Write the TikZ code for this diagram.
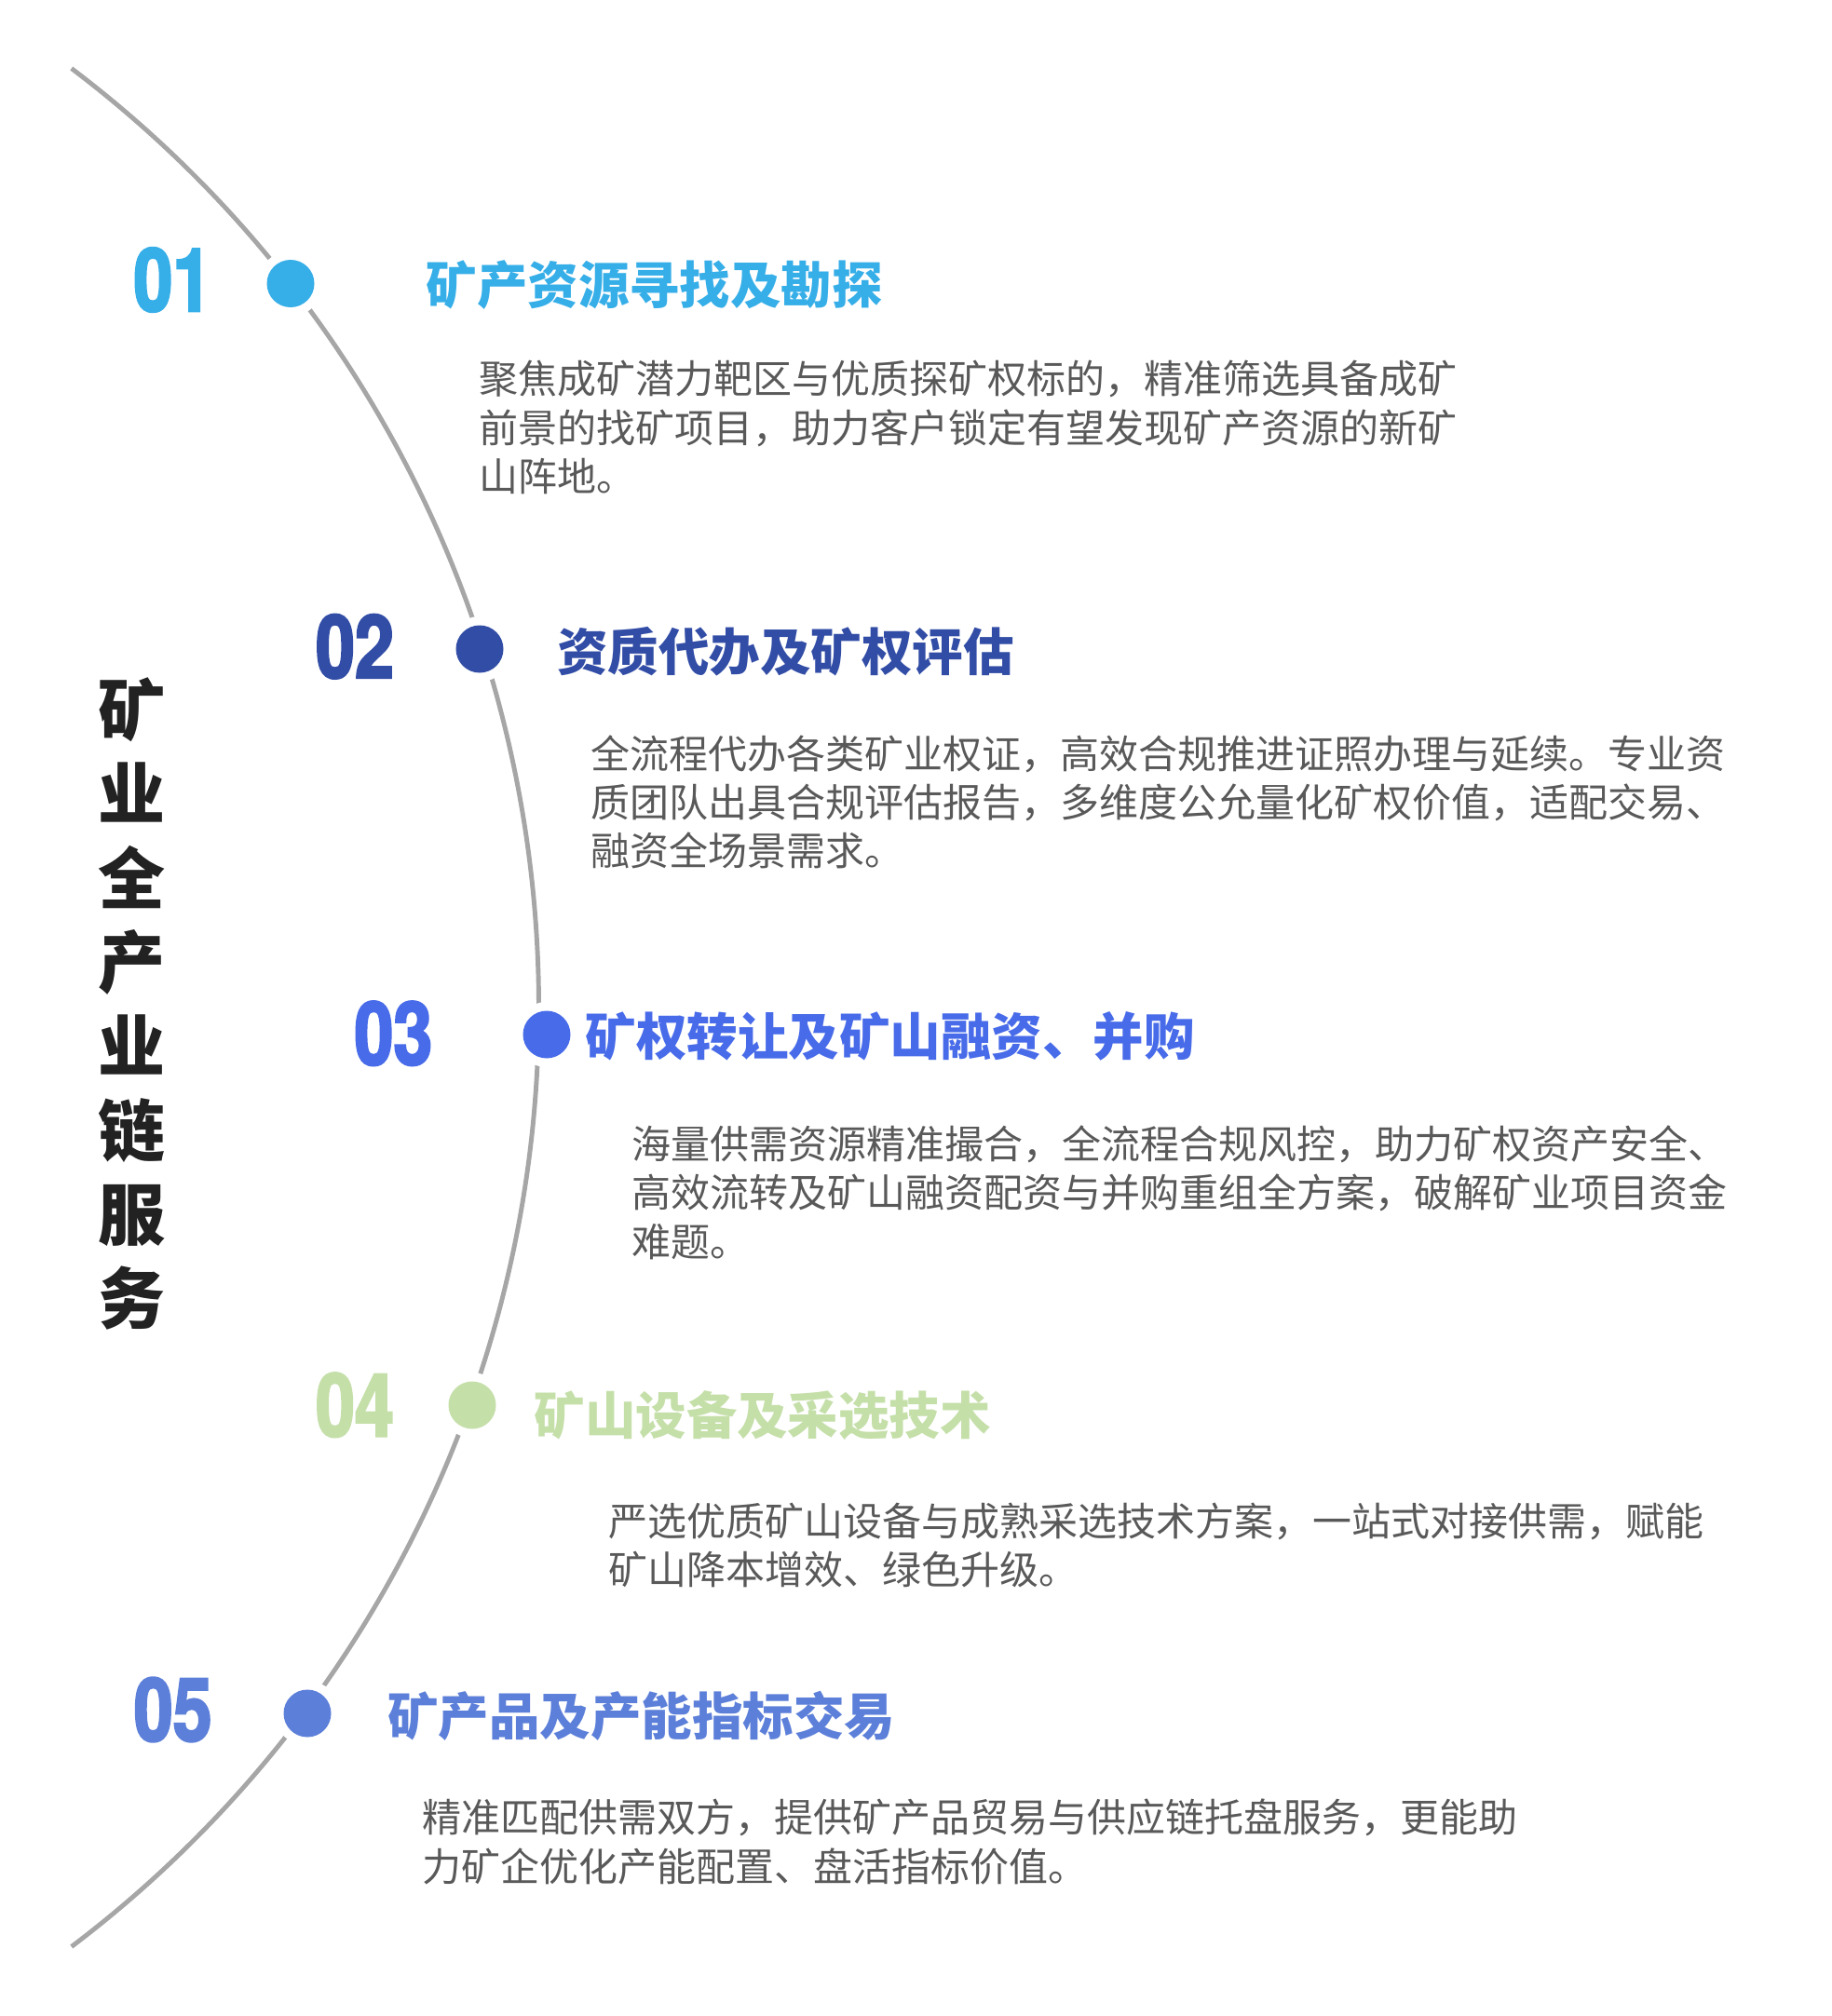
\documentclass[tikz,border=0pt]{standalone}
\usepackage{fontspec}
\usepackage{xcolor}
\usepackage{tikz}
\usetikzlibrary{positioning}
\setmainfont{Noto Sans CJK SC}
\newfontfamily\cjk{Noto Sans CJK SC}
\newfontfamily\numfont{TeX Gyre Heros}[UprightFont=* Bold, FakeStretch=0.8, FakeBold=2.5]
\definecolor{stepcyan}{HTML}{36AEE8}
\definecolor{stepnavy}{HTML}{324DA6}
\definecolor{stepblue}{HTML}{486BE9}
\definecolor{stepgreen}{HTML}{C5DFA9}
\definecolor{stepslate}{HTML}{5C7FD9}
\definecolor{bodygray}{HTML}{595959}
\definecolor{arcgray}{HTML}{A6A6A6}
\definecolor{headblack}{HTML}{222222}

\begin{document}
\begin{tikzpicture}[
    stepnum/.style={inner sep=0pt, text=#1, font=\numfont\fontsize{26.8}{28}\selectfont},
    stepdot/.style={circle, inner sep=0pt, minimum size=0.51cm, fill=#1, preaction={draw=white, line width=0.19cm}},
    steptitle/.style={anchor=west, inner sep=0pt, text=#1, font=\cjk\bfseries\fontsize{15.5}{18}\selectfont},
    stepbody/.style={anchor=west, align=left, inner sep=0pt, text=bodygray, font=\cjk\fontsize{11.95}{14.9}\selectfont},
    arcline/.style={draw=arcgray, line width=1.4pt},
]
\useasboundingbox[fill=white] (0,0) rectangle (19.67,-21.65);

% Left: vertical heading
\node[align=center, inner sep=0pt, text=headblack, font=\cjk\bfseries\fontsize{20.5}{25.7}\selectfont] (head) at (1.42,-10.78) {矿\\业\\全\\产\\业\\链\\服\\务};

% Timeline arc
\coordinate (ctr) at (-6.86,-10.82);
\draw[arcline] (ctr) ++(52.9:12.645) arc[start angle=52.9, end angle=-52.9, radius=12.645];

% Dots on the arc
\node[stepdot=stepcyan] (d1) at (3.12,-3.045) {};
\node[stepdot=stepnavy] (d2) at (5.15,-6.97) {};
\node[stepdot=stepblue] (d3) at (5.87,-11.11) {};
\node[stepdot=stepgreen] (d4) at (5.07,-15.09) {};
\node[stepdot=stepslate] (d5) at (3.30,-18.40) {};

% Step numbers
\node[stepnum=stepcyan] (n1) at (1.854,-3.005) {01};
\node[stepnum=stepnavy] (n2) at (3.81,-6.943) {02};
\node[stepnum=stepblue] (n3) at (4.224,-11.098) {03};
\node[stepnum=stepgreen] (n4) at (3.81,-15.088) {04};
\node[stepnum=stepslate] (n5) at (1.857,-18.36) {05};

% Step titles
\node[steptitle=stepcyan] (t1) at (4.569,-3.064) {矿产资源寻找及勘探};
\node[steptitle=stepnavy] (t2) at (5.977,-6.999) {资质代办及矿权评估};
\node[steptitle=stepblue] (t3) at (6.281,-11.126) {矿权转让及矿山融资、并购};
\node[steptitle=stepgreen] (t4) at (5.729,-15.198) {矿山设备及采选技术};
\node[steptitle=stepslate] (t5) at (4.155,-18.428) {矿产品及产能指标交易};

% Step texts
\node[stepbody] (b1) at (5.135,-4.592) {聚焦成矿潜力靶区与优质探矿权标的，精准筛选具备成矿\\前景的找矿项目，助力客户锁定有望发现矿产资源的新矿\\山阵地。};
\node[stepbody] (b2) at (6.336,-8.614) {全流程代办各类矿业权证，高效合规推进证照办理与延续。专业资\\质团队出具合规评估报告，多维度公允量化矿权价值，适配交易、\\融资全场景需求。};
\node[stepbody] (b3) at (6.778,-12.805) {海量供需资源精准撮合，全流程合规风控，助力矿权资产安全、\\高效流转及矿山融资配资与并购重组全方案，破解矿业项目资金\\难题。};
\node[stepbody] (b4) at (6.529,-16.592) {严选优质矿山设备与成熟采选技术方案，一站式对接供需，赋能\\矿山降本增效、绿色升级。};
\node[stepbody] (b5) at (4.528,-19.781) {精准匹配供需双方，提供矿产品贸易与供应链托盘服务，更能助\\力矿企优化产能配置、盘活指标价值。};

\end{tikzpicture}
\end{document}
